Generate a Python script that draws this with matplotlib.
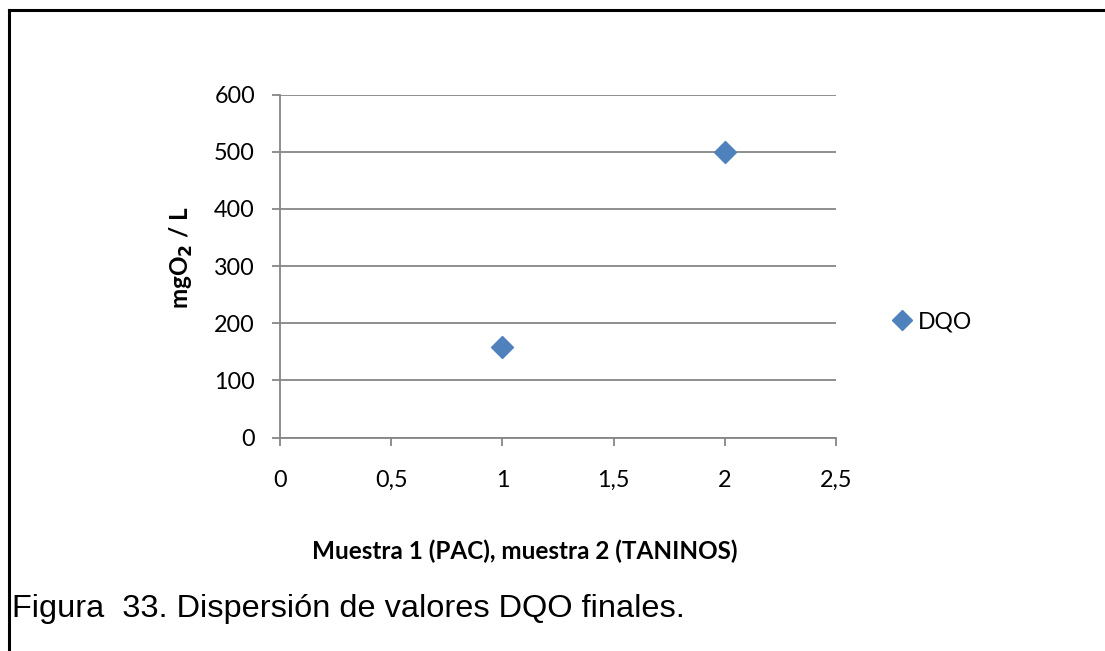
import matplotlib.pyplot as plt
from matplotlib.lines import Line2D

# DQO final por muestra: 1 = PAC, 2 = TANINOS
muestra = [1, 2]
dqo = [158, 500]

x_ticks = [0, 0.5, 1, 1.5, 2, 2.5]
x_ticklabels = ['0', '0,5', '1', '1,5', '2', '2,5']
y_ticks = [0, 100, 200, 300, 400, 500, 600]

azul = '#4f81bd'
gris = '#868686'

plt.rcParams['font.family'] = ['Lato', 'DejaVu Sans']

fig = plt.figure(figsize=(11.05, 6.51), dpi=100)
ax = fig.add_axes([0.2534, 0.3277, 0.5032, 0.5269])

ax.scatter(muestra, dqo, marker='D', s=125, color=azul, zorder=3, label='DQO')

ax.set_xlim(0, 2.5)
ax.set_ylim(0, 600)
ax.set_xticks(x_ticks)
ax.set_xticklabels(x_ticklabels)
ax.set_yticks(y_ticks)
ax.yaxis.grid(True, color=gris, lw=1.3)
ax.set_axisbelow(True)

for s in ['top', 'right']:
    ax.spines[s].set_visible(False)
for s in ['left', 'bottom']:
    ax.spines[s].set_color(gris)
    ax.spines[s].set_linewidth(1.3)

ax.tick_params(axis='both', colors=gris, labelcolor='black', labelsize=16.8,
               width=1.3, length=6)
ax.tick_params(axis='y', pad=12)
ax.tick_params(axis='x', pad=17)

ax.set_xlabel('Muestra 1 (PAC), muestra 2 (TANINOS)', fontsize=17.5,
              fontweight='bold', labelpad=35)
ax.xaxis.label.set_x(0.44)
ax.set_ylabel('mgO$_\\mathbf{2}$ / L', fontsize=17.5, fontweight='bold', labelpad=14)
ax.yaxis.label.set_y(0.525)

# leyenda a la derecha
h = Line2D([], [], marker='D', ls='none', color=azul, markersize=10)
fig.legend([h], ['DQO'], loc='center left', bbox_to_anchor=(893 / 1105, 1 - 322 / 651),
           frameon=False, fontsize=16.5, handlelength=0.8, handletextpad=0.3,
           borderpad=0, borderaxespad=0)

# pie de figura
fig.text(12 / 1105, 1 - 609 / 651, 'Figura  33. Dispersión de valores DQO finales.',
         fontsize=23.4, family='Liberation Sans', va='center', ha='left')

# recuadro (borde superior e izquierdo)
fig.add_artist(Line2D([9 / 1105, 1], [1 - 10 / 651, 1 - 10 / 651], color='black', lw=2.2))
fig.add_artist(Line2D([9 / 1105, 9 / 1105], [0, 1 - 10 / 651], color='black', lw=2.2))

fig.savefig('out.png', dpi=100)
